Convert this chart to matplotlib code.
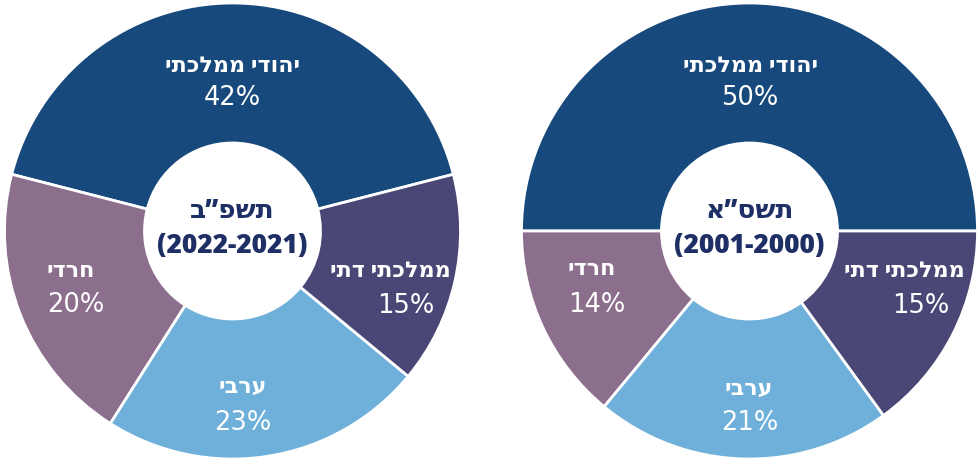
import matplotlib.pyplot as plt

# Hebrew is written here in logical order and flipped for drawing, since matplotlib has no bidi
def heb(s):
    return s[::-1]

groups = ["יהודי ממלכתי", "חרדי", "ערבי", "ממלכתי דתי"]
colors = ["#17497D", "#8C6E8D", "#6EB0DA", "#4A4777"]

left_vals = [42, 20, 23, 15]
right_vals = [50, 14, 21, 15]

left_title = "תשפ\u201dב"
left_years = "(2022-2021)"
right_title = "תשס\u201dא"
right_years = "(2001-2000)"

# label placement, pixels from the donut centre: (name x, name baseline, pct x, pct baseline)
left_pos = [(0, -160, 0, -127), (-162, 45, -157, 80), (10, 161, 10, 198), (158, 45, 173, 81)]
right_pos = [(1, -160, 0, -127), (-158, 43, -153, 80), (-1, 163, 0, 198), (155, 45, 171, 81)]

plt.rcParams['font.family'] = ['Open Sans', 'DejaVu Sans']
navy = '#1E2F66'
R = 228.0

fig = plt.figure(figsize=(9.78, 4.6), dpi=100)

def donut(rect, vals, title, years, pos):
    ax = fig.add_axes(rect)
    start = 90 - vals[0] * 3.6 / 2
    ax.pie(vals, colors=colors, startangle=start, counterclock=True, radius=1,
           wedgeprops=dict(width=0.614, edgecolor='white', linewidth=2))
    for name, v, p in zip(groups, vals, pos):
        ax.text(p[0] / R, -p[1] / R, heb(name), ha='center', va='baseline', color='white',
                fontsize=16, fontweight='bold')
        ax.text(p[2] / R, -p[3] / R, "{0}%".format(v), ha='center', va='baseline',
                color='white', fontsize=18.5, family='DejaVu Sans')
    ax.text(0, 14 / R, heb(title), ha='center', va='baseline', color=navy,
            fontsize=19, fontweight='heavy')
    ax.text(0, -21 / R, years, ha='center', va='baseline', color=navy,
            fontsize=19, fontweight='heavy')
    ax.set_xlim(-1, 1)
    ax.set_ylim(-1, 1)
    ax.set_aspect('equal')
    ax.axis('off')

donut([4.5 / 978, 0, 456 / 978, 456 / 460], left_vals, left_title, left_years, left_pos)
donut([521.5 / 978, 0, 456 / 978, 456 / 460], right_vals, right_title, right_years, right_pos)

fig.savefig("out.png", dpi=100)
